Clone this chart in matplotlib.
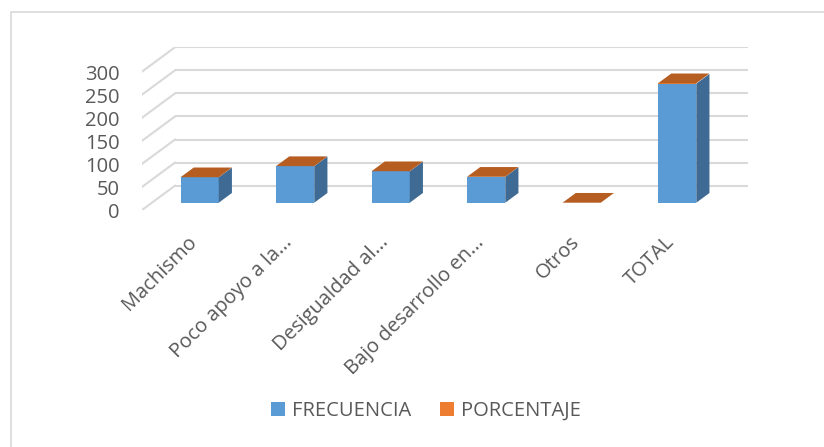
import matplotlib.pyplot as plt
from matplotlib.patches import Polygon, Rectangle, Patch
from matplotlib.transforms import ScaledTranslation

# Datos
categorias = ['Machismo', 'Poco apoyo a la...', 'Desigualdad al...',
              'Bajo desarrollo en...', 'Otros', 'TOTAL']
frecuencia = [55, 79, 68, 56, 0, 258]
porcentaje = [0.21, 0.31, 0.26, 0.22, 0.0, 1.0]
ticks_y = [0, 50, 100, 150, 200, 250, 300]

azul = '#5B9BD5'
azul_lado = '#3E6A93'
naranja = '#ED7D31'
naranja_tapa = '#B65D22'
gris_texto = '#595959'
gris_linea = '#D9D9D9'

plt.rcParams['font.family'] = ['Open Sans', 'DejaVu Sans']

# pseudo 3D: desplazamiento de profundidad (en unidades de datos)
DX = 0.345
DY = 52.7
t0, t1 = 0.3, 0.7   # profundidad de las barras
ancho = 0.4

fig = plt.figure(figsize=(8.24, 4.47), dpi=100)
ax = fig.add_axes([142 / 824, 1 - 210 / 447, (748 - 142) / 824, (210 - 47.3) / 447])
ax.set_xlim(-0.5, len(categorias) - 0.5 + DX)
ax.set_ylim(0, max(ticks_y) + DY)
ax.axis('off')

# paredes (lineas de division)
for v in ticks_y:
    ax.plot([-0.5 + DX, len(categorias) - 0.5 + DX], [v + DY, v + DY],
            color=gris_linea, lw=1.5, zorder=1, solid_capstyle='butt')
    ax.plot([-0.5, -0.5 + DX], [v, v + DY], color=gris_linea, lw=1.5, zorder=1)
    ax.text(-0.5, v, str(v), transform=ax.transData + ScaledTranslation(-0.22, -0.03, fig.dpi_scale_trans),
            ha='right', va='center', fontsize=14.5, color=gris_texto)

# barras
for i in range(len(categorias)):
    f = frecuencia[i]
    p = porcentaje[i]
    tope = f + p
    x_izq = i - ancho / 2
    x_der = i + ancho / 2
    # caras frontales (apiladas)
    ax.bar(i + t0 * DX, f, bottom=t0 * DY, width=ancho, color=azul, zorder=3)
    ax.bar(i + t0 * DX, p, bottom=f + t0 * DY, width=ancho, color=naranja, zorder=3)
    # cara lateral
    lado = [(x_der + t0 * DX, t0 * DY), (x_der + t1 * DX, t1 * DY),
            (x_der + t1 * DX, f + t1 * DY), (x_der + t0 * DX, f + t0 * DY)]
    ax.add_patch(Polygon(lado, closed=True, facecolor=azul_lado, edgecolor='none', zorder=3))
    # tapa superior
    tapa = [(x_izq + t0 * DX, tope + t0 * DY), (x_der + t0 * DX, tope + t0 * DY),
            (x_der + t1 * DX, tope + t1 * DY), (x_izq + t1 * DX, tope + t1 * DY)]
    ax.add_patch(Polygon(tapa, closed=True, facecolor=naranja_tapa, edgecolor='none', zorder=4))

# etiquetas de categorias
desplaza = ScaledTranslation(0.08, -0.33, fig.dpi_scale_trans)
for i, nombre in enumerate(categorias):
    ax.text(i, 0, nombre, transform=ax.transData + desplaza, rotation=45,
            rotation_mode='anchor', ha='right', va='baseline',
            fontsize=14.5, color=gris_texto)

# leyenda
manejadores = [Patch(facecolor=azul, label='FRECUENCIA'),
               Patch(facecolor=naranja, label='PORCENTAJE')]
fig.legend(handles=manejadores, loc='center', bbox_to_anchor=(0.517, 1 - 411 / 447),
           ncol=2, frameon=False, fontsize=14.5, labelcolor=gris_texto,
           handlelength=0.7, handleheight=0.7, handletextpad=0.35, columnspacing=1.4)

# marco del grafico
fig.patches.append(Rectangle((10.5 / 824, -0.1), 2, (447 - 11.5) / 447 + 0.1,
                             transform=fig.transFigure, fill=False,
                             edgecolor=gris_linea, lw=1.2))

fig.savefig('out.png', dpi=100)
